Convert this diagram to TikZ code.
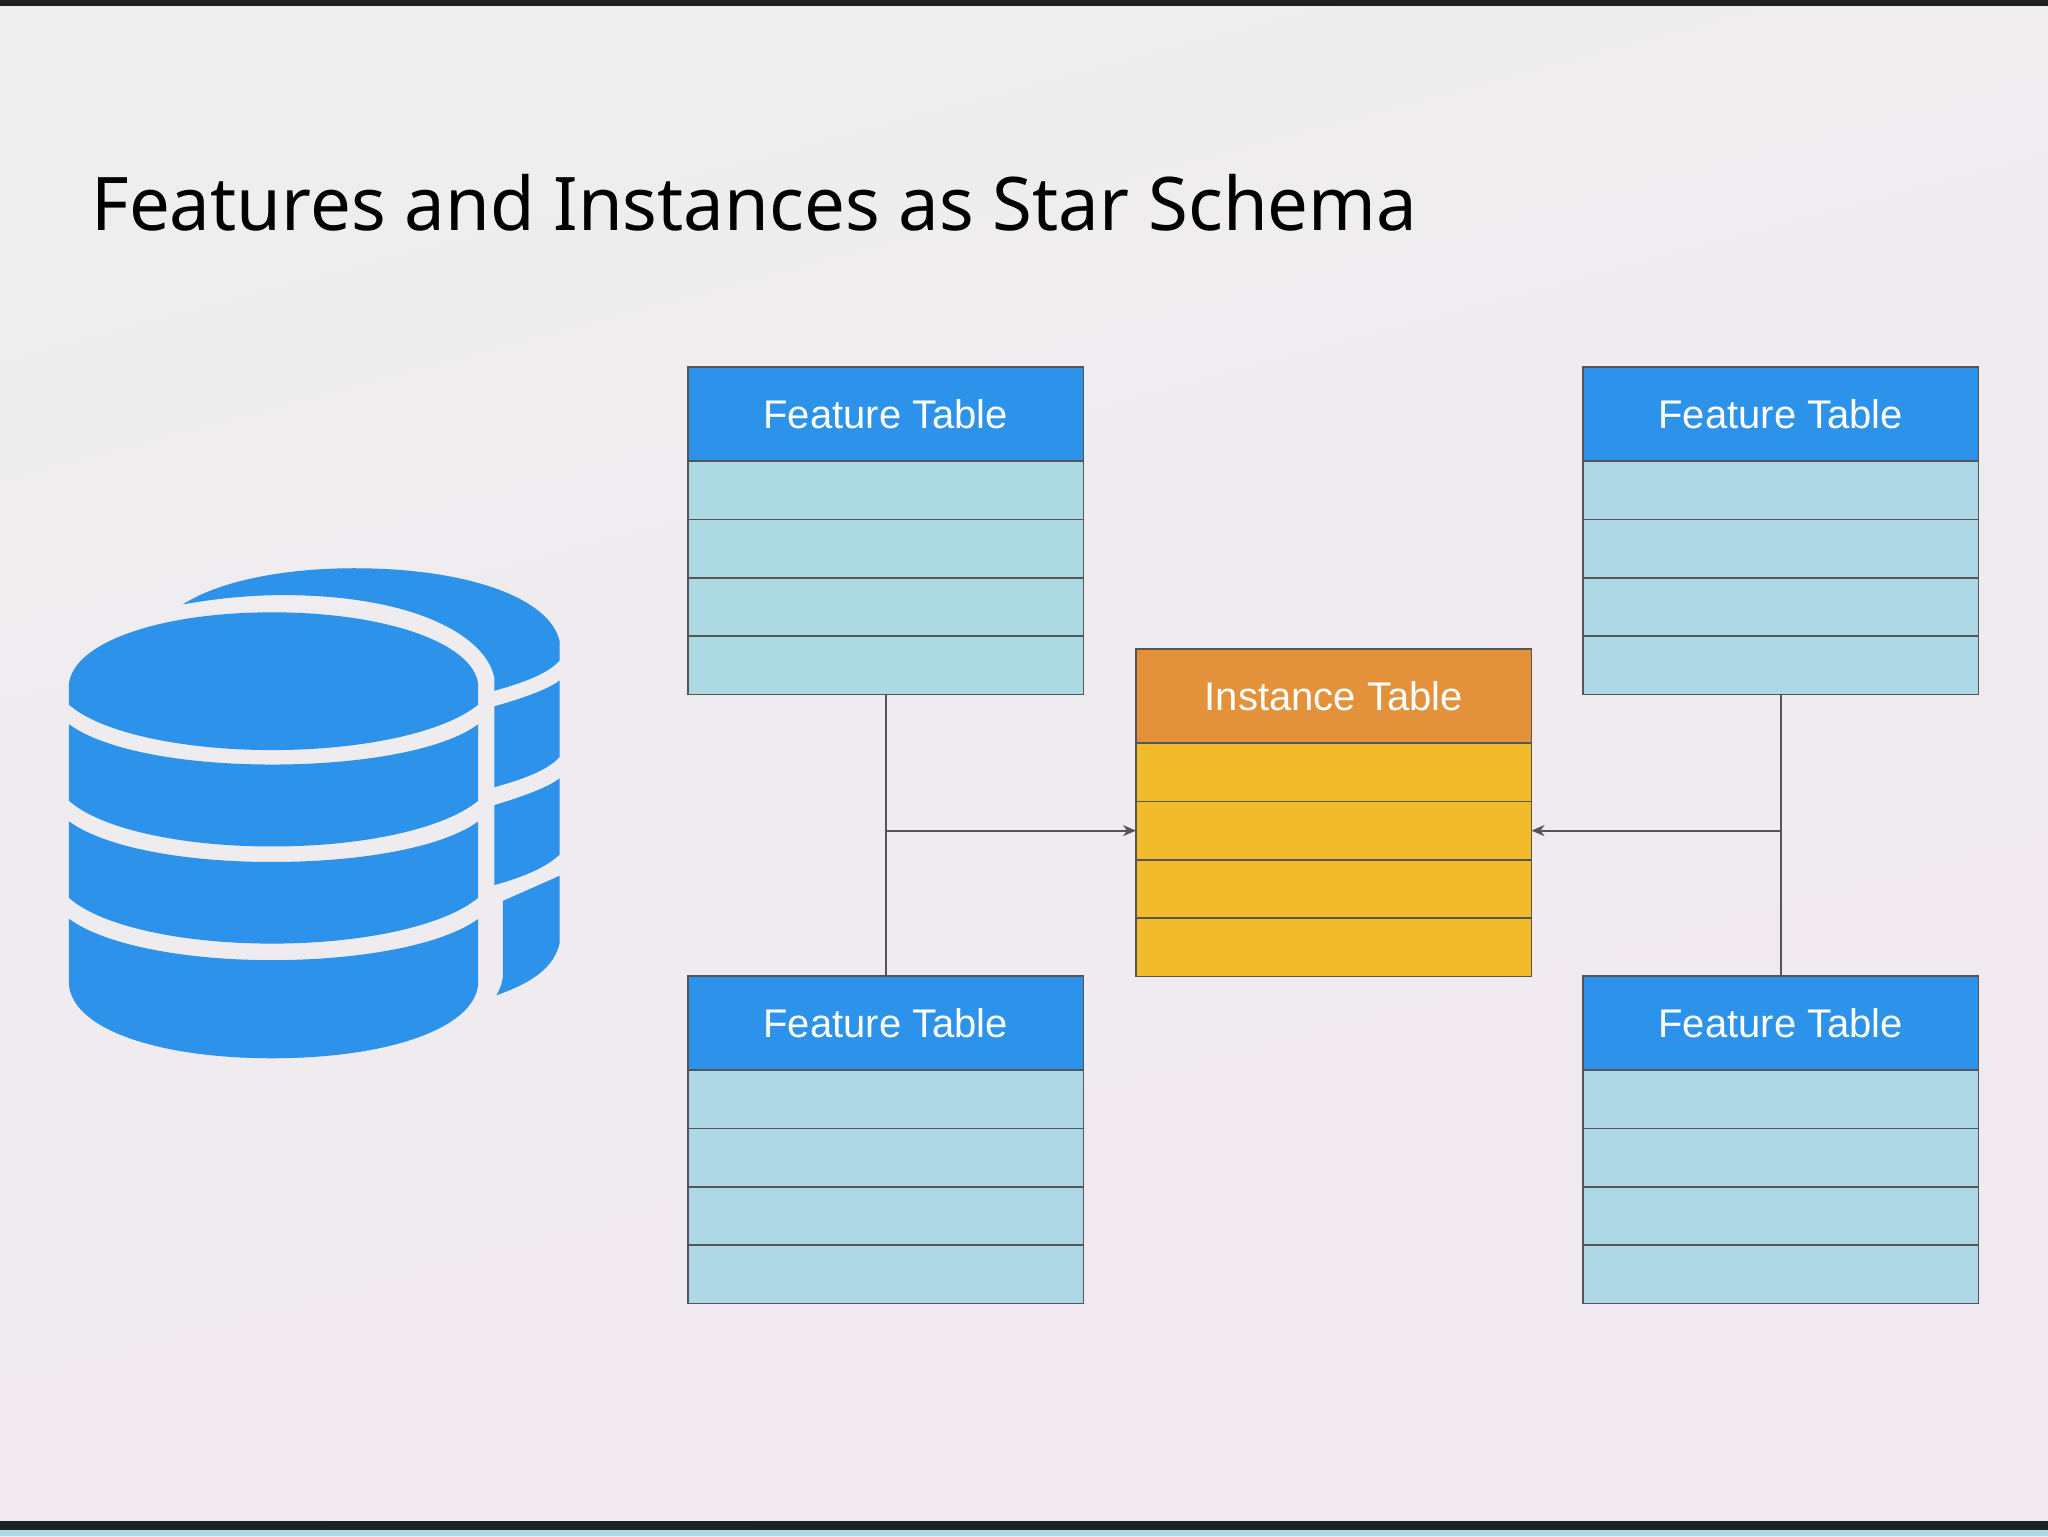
\documentclass[tikz,border=0pt]{standalone}
\usepackage{fontspec}
\setmainfont{Liberation Sans}
\newfontfamily\titlefont[FakeStretch=0.98]{Noto Sans}
\newfontfamily\labelfont{Liberation Sans}
\usetikzlibrary{arrows.meta,positioning}
\definecolor{hdrblue}{HTML}{2D92EA}
\definecolor{hdrorange}{HTML}{E3923B}
\definecolor{rowteal}{HTML}{ADD9E3}
\definecolor{rowsky}{HTML}{AED7E5}
\definecolor{rowyellow}{HTML}{F2BB2C}
\definecolor{rule}{HTML}{555558}
\definecolor{barink}{HTML}{1A2324}
\tikzset{
  cell/.style={draw=rule,line width=0.8pt,minimum width=197.7pt,inner sep=0pt,outer sep=0pt,anchor=north west},
  hdr/.style={cell,minimum height=47pt,text=white,font=\labelfont\fontsize{20}{22}\selectfont},
  row/.style={cell,minimum height=29.2pt},
  conn/.style={draw=rule,line width=0.9pt},
  tip/.style={-{Stealth[length=6.5pt,width=5.5pt,inset=2pt]}},
  dbfill/.style={fill=hdrblue,draw=none}
}
\newcommand{\tablebox}[6]{%
  \node[hdr,fill=#5] (#1h) at (#2,#3) {#4};
  \node[row,fill=#6] (#11) at (#1h.south west) {};
  \node[row,fill=#6] (#12) at (#11.south west) {};
  \node[row,fill=#6] (#13) at (#12.south west) {};
  \node[row,fill=#6] (#14) at (#13.south west) {};
}
\begin{document}
\begin{tikzpicture}[x=0.5pt,y=-0.5pt]
\useasboundingbox (0,0) rectangle (2048,1536);
% background
\shade[shading=axis,top color={rgb,255:red,238;green,238;blue,238},bottom color={rgb,255:red,241;green,233;blue,240},shading angle=15] (0,0) rectangle (2048,1536);
\fill[black!88] (0,0) rectangle (2048,6);
\fill[rowteal] (0,1530) rectangle (2048,1536);
\fill[barink] (0,1521) rectangle (2048,1530);
% title
\node[anchor=base west,inner sep=0pt,font=\titlefont\fontsize{37}{42}\selectfont,text=black] (title) at (91,230) {Features and Instances as Star Schema};
% tables
\tablebox{tl}{688}{367}{Feature Table}{hdrblue}{rowteal}
\tablebox{tr}{1583}{367}{Feature Table}{hdrblue}{rowsky}
\tablebox{bl}{688}{976}{Feature Table}{hdrblue}{rowsky}
\tablebox{br}{1583}{976}{Feature Table}{hdrblue}{rowsky}
\tablebox{in}{1136}{649}{Instance Table}{hdrorange}{rowyellow}
% connectors
\draw[conn] (tl4.south) -- (blh.north);
\draw[conn] (tr4.south) -- (brh.north);
\draw[conn,tip] (tl4.south |- in2.west) -- (in2.west);
\draw[conn,tip] (tr4.south |- in2.east) -- (in2.east);
% database icon
\begin{scope}[shift={(40,540)},x=0.17857pt,y=-0.17218pt]
\fill[dbfill] (400,187) .. controls (500,120) and (680,82) .. (880,82) .. controls (1200,82) and (1430,170) .. (1455,295) -- (1455,350) .. controls (1420,390) and (1350,415) .. (1272,438) -- (1272,400) .. controls (1250,280) and (1050,160) .. (680,160) .. controls (580,160) and (480,172) .. (400,187) -- cycle;
\fill[dbfill] (1272,483) .. controls (1350,460) and (1420,435) .. (1455,408) -- (1455,630) .. controls (1420,670) and (1350,695) .. (1272,718) -- cycle;
\fill[dbfill] (1272,770) .. controls (1350,745) and (1420,720) .. (1455,692) -- (1455,913) .. controls (1420,950) and (1350,980) .. (1272,1002) -- cycle;
\fill[dbfill] (1296,1048) -- (1455,975) -- (1455,1170) .. controls (1440,1240) and (1380,1285) .. (1278,1322) .. controls (1290,1300) and (1296,1280) .. (1296,1265) -- cycle;
\fill[dbfill] (81,478) -- (81,420) .. controls (90,300) and (330,210) .. (650,210) .. controls (970,210) and (1215,300) .. (1227,420) -- (1227,478) .. controls (1130,560) and (900,610) .. (650,610) .. controls (400,610) and (170,560) .. (81,478) -- cycle;
\fill[dbfill] (81,535) .. controls (180,610) and (400,652) .. (650,652) .. controls (900,652) and (1130,610) .. (1227,535) -- (1227,757) .. controls (1130,840) and (900,890) .. (650,890) .. controls (400,890) and (170,840) .. (81,757) -- cycle;
\fill[dbfill] (81,817) .. controls (180,892) and (400,935) .. (650,935) .. controls (900,935) and (1130,892) .. (1227,817) -- (1227,1039) .. controls (1130,1122) and (900,1172) .. (650,1172) .. controls (400,1172) and (170,1122) .. (81,1039) -- cycle;
\fill[dbfill] (81,1100) .. controls (180,1175) and (400,1220) .. (650,1220) .. controls (900,1220) and (1130,1175) .. (1227,1100) -- (1227,1290) .. controls (1215,1420) and (970,1505) .. (650,1505) .. controls (330,1505) and (90,1420) .. (81,1290) -- cycle;
\end{scope}
\end{tikzpicture}
\end{document}
